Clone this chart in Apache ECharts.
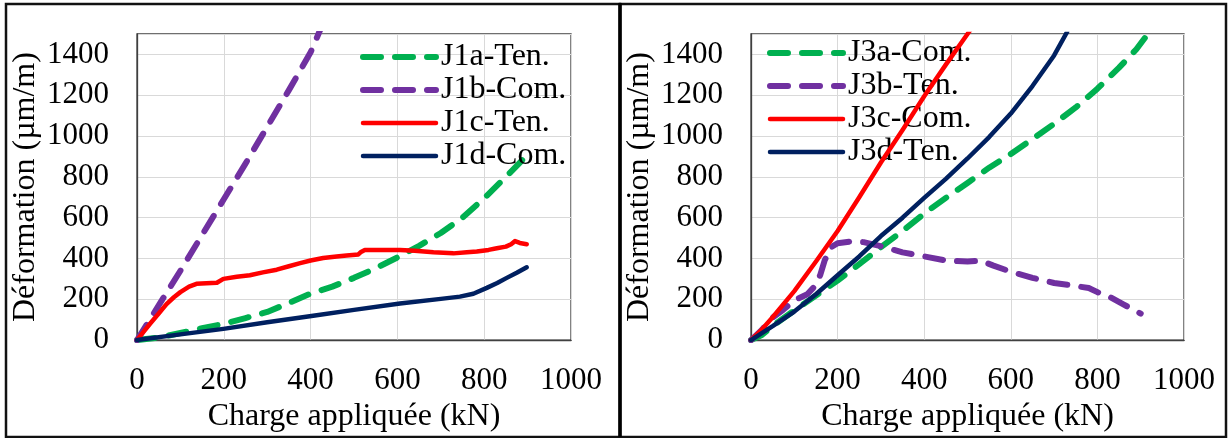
<!DOCTYPE html>
<html>
<head>
<meta charset="utf-8">
<script src="https://cdn.jsdelivr.net/npm/echarts@6/dist/echarts.min.js"></script>
<style>html,body{margin:0;padding:0;background:#fff}#c{width:1228px;height:438px}</style>
</head>
<body>
<div id="c"></div>
<script>
// ---- data ----
const xTicks = [0, 200, 400, 600, 800, 1000];
const yTicks = [0, 200, 400, 600, 800, 1000, 1200, 1400];
const xName = 'Charge appliquée (kN)';
const yName = 'Déformation (µm/m)';

const leftNames = ['J1a-Ten.', 'J1b-Com.', 'J1c-Ten.', 'J1d-Com.'];
const rightNames = ['J3a-Com.', 'J3b-Ten.', 'J3c-Com.', 'J3d-Ten.'];

const j1a = [[0,0],[50,12],[100,35],[150,58],[200,80],[250,108],[300,138],[350,182],[400,228],[450,262],[500,305],[550,352],[600,405],[650,462],[700,525],[750,600],[800,695],[850,800],[880,865],[900,910]];
const j1b = [[0,0],[25,85],[50,170],[100,340],[150,515],[200,690],[250,865],[300,1045],[350,1225],[400,1410],[430,1560]];
const j1c = [[0,0],[15,40],[30,80],[50,130],[68,176],[85,210],[100,235],[120,262],[137,276],[160,278],[184,281],[199,300],[230,310],[260,318],[290,332],[322,345],[350,362],[376,377],[400,390],[429,402],[460,410],[483,415],[510,420],[515,430],[525,441],[560,442],[606,442],[640,438],[683,430],[729,425],[760,430],[783,434],[810,442],[829,450],[850,458],[862,470],[871,485],[882,476],[898,470]];
const j1d = [[0,0],[100,28],[199,55],[300,87],[406,119],[500,148],[606,179],[700,202],[744,213],[775,227],[806,256],[830,280],[852,305],[875,330],[898,357]];

const j3a = [[0,0],[25,25],[50,70],[100,145],[150,218],[200,292],[250,372],[300,455],[350,535],[400,620],[450,697],[500,770],[550,845],[600,912],[650,985],[700,1060],[750,1140],[800,1232],[850,1335],[890,1425],[920,1510]];
const j3b = [[0,0],[25,50],[50,110],[75,150],[100,195],[130,225],[150,270],[160,320],[170,390],[185,455],[200,475],[230,483],[260,480],[300,460],[350,430],[400,410],[450,390],[500,385],[530,390],[560,365],[600,335],[650,305],[700,280],[750,265],[780,255],[800,235],[830,210],[860,175],[900,130]];
const j3c = [[0,0],[25,52],[50,112],[100,240],[150,385],[200,535],[250,700],[300,870],[350,1030],[400,1195],[450,1350],[500,1500],[510,1530]];
const j3d = [[0,0],[50,68],[100,140],[150,225],[200,318],[250,410],[300,510],[350,600],[400,697],[450,790],[500,890],[550,995],[600,1110],[650,1245],[700,1395],[730,1510]];

// ---- styles ----
const FONT = '"Liberation Serif", "Times New Roman", serif';
const GREEN = '#00B050', PURPLE = '#7030A0', RED = '#FF0000', NAVY = '#002060';

function xAxis(gi) {
  return {
    gridIndex: gi, type: 'value', min: xTicks[0], max: xTicks[xTicks.length - 1], interval: 200,
    name: xName, nameLocation: 'middle', nameGap: 60,
    nameTextStyle: { fontFamily: FONT, fontSize: 32, color: '#000' },
    axisLine: { show: true, lineStyle: { color: '#404040', width: 1.3 } },
    axisTick: { show: false },
    axisLabel: { fontFamily: FONT, fontSize: 31, color: '#000', margin: 25,
      formatter: v => xTicks.includes(v) ? String(v) : '' },
    splitLine: { show: true, lineStyle: { color: '#d9d9d9', width: 1 } }
  };
}
function yAxis(gi) {
  return {
    gridIndex: gi, type: 'value', min: 0, max: 1500, interval: 200,
    name: yName, nameLocation: 'middle', nameGap: 95,
    nameTextStyle: { fontFamily: FONT, fontSize: 32, color: '#000' },
    axisLine: { show: true, lineStyle: { color: '#404040', width: 1.3 } },
    axisTick: { show: false },
    axisLabel: { fontFamily: FONT, fontSize: 31, color: '#000', margin: 28, showMaxLabel: false,
      formatter: v => yTicks.includes(v) ? String(v) : '' },
    splitLine: { show: true, lineStyle: { color: '#d9d9d9', width: 1 } }
  };
}
function dashed(name, data, color, gi) {
  return { name, type: 'line', data, xAxisIndex: gi, yAxisIndex: gi, showSymbol: false, symbol: 'none',
    smooth: false,
    lineStyle: { color, width: 6, type: [18, 14], cap: 'round', join: 'round' },
    itemStyle: { color }, z: 3 };
}
function solid(name, data, color, gi) {
  return { name, type: 'line', data, xAxisIndex: gi, yAxisIndex: gi, showSymbol: false, symbol: 'none',
    smooth: false,
    lineStyle: { color, width: 4.5, type: 'solid', cap: 'round', join: 'round' },
    itemStyle: { color }, z: 4 };
}
function legend(names, left, top) {
  return { data: names, orient: 'vertical', left, top, padding: 0, itemGap: 1,
    itemWidth: 73, itemHeight: 14,
    itemStyle: { opacity: 0 },
    lineStyle: { width: 'inherit', type: 'inherit', cap: 'round' },
    textStyle: { fontFamily: FONT, fontSize: 32, color: '#000', lineHeight: 32 } };
}

const leftSeries = [
  dashed(leftNames[0], j1a, GREEN, 0),
  dashed(leftNames[1], j1b, PURPLE, 0),
  solid(leftNames[2], j1c, RED, 0),
  solid(leftNames[3], j1d, NAVY, 0)
];
const rightSeries = [
  dashed(rightNames[0], j3a, GREEN, 1),
  dashed(rightNames[1], j3b, PURPLE, 1),
  solid(rightNames[2], j3c, RED, 1),
  solid(rightNames[3], j3d, NAVY, 1)
];

const chart = echarts.init(document.getElementById('c'), null, { renderer: 'canvas' });
chart.setOption({
  animation: false,
  backgroundColor: '#fff',
  grid: [
    { left: 137, top: 34, width: 434, height: 309, show: true, borderColor: '#404040', borderWidth: 1.3, containLabel: false },
    { left: 751, top: 34, width: 433, height: 309, show: true, borderColor: '#404040', borderWidth: 1.3, containLabel: false }
  ],
  xAxis: [xAxis(0), xAxis(1)],
  yAxis: [yAxis(0), yAxis(1)],
  legend: [legend(leftNames, 360, 41), legend(rightNames, 767, 37)],
  series: leftSeries.concat(rightSeries),
  graphic: [
    { type: 'rect', shape: { x: 6, y: 4, width: 614, height: 433 }, style: { fill: 'none', stroke: '#111', lineWidth: 2.5 }, silent: true, z: 100 },
    { type: 'rect', shape: { x: 620, y: 4, width: 606, height: 433 }, style: { fill: 'none', stroke: '#111', lineWidth: 2.5 }, silent: true, z: 100 },
    { type: 'line', shape: { x1: 620, y1: 3, x2: 620, y2: 437 }, style: { stroke: '#000', lineWidth: 3.5 }, silent: true, z: 101 }
  ]
});
</script>
</body>
</html>
